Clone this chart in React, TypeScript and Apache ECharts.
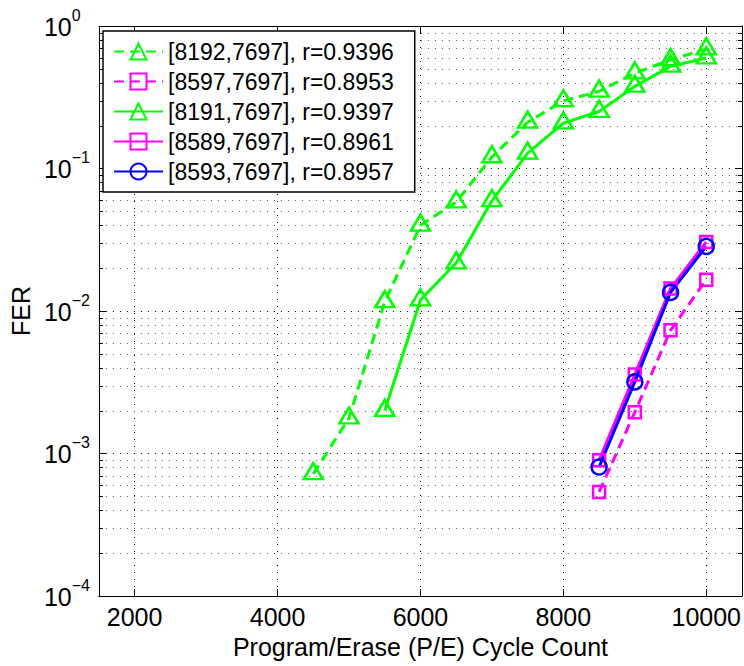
import React, { useEffect, useRef } from 'react';
import * as echarts from 'echarts';

const FONT = '"Liberation Sans", Arial, Helvetica, sans-serif';

// Axis structure
const xMin = 1500;
const xMax = 10500;
const xTicks = [2000, 4000, 6000, 8000, 10000];
const yMin = 1e-4;
const yMax = 1;
const minorDecades = [1e-4, 1e-3, 1e-2, 1e-1];
const minorMultipliers = [2, 3, 4, 5, 6, 7, 8, 9];

// Legend names
const names = [
  '[8192,7697], r=0.9396',
  '[8597,7697], r=0.8953',
  '[8191,7697], r=0.9397',
  '[8589,7697], r=0.8961',
  '[8593,7697], r=0.8957',
];

// Data
const pe8192 = [4500, 5000, 5500, 6000, 6500, 7000, 7500, 8000, 8500, 9000, 9500, 10000];
const fer8192 = [7.2e-4, 1.77e-3, 0.0116, 0.0399, 0.0581, 0.1205, 0.211, 0.298, 0.348, 0.467, 0.579, 0.689];
const pe8191 = [5500, 6000, 6500, 7000, 7500, 8000, 8500, 9000, 9500, 10000];
const fer8191 = [2.0e-3, 0.01195, 0.0217, 0.0593, 0.128, 0.208, 0.251, 0.377, 0.521, 0.596];
const peHigh = [8500, 9000, 9500, 10000];
const fer8597 = [5.37e-4, 1.95e-3, 7.32e-3, 0.0166];
const fer8589 = [8.96e-4, 3.58e-3, 0.0144, 0.0305];
const fer8593 = [8.04e-4, 3.18e-3, 0.0135, 0.0284];

const GREEN = '#00ff00';
const MAGENTA = '#ff00ff';
const BLUE = '#0000ff';

function lineSeries(
  name: string,
  xs: number[],
  ys: number[],
  color: string,
  dashed: boolean,
  symbol: string,
  size: any,
  offset: number[],
) {
  return {
    type: 'line',
    name,
    data: xs.map((x, i) => [x, ys[i]]),
    symbol,
    symbolSize: size,
    symbolOffset: offset,
    showSymbol: true,
    showAllSymbol: true,
    lineStyle: { color, width: 3, type: dashed ? [10, 6] : 'solid' },
    itemStyle: { color: 'rgba(0,0,0,0)', borderColor: color, borderWidth: 2.5 },
    emphasis: { disabled: true },
    z: 3,
  };
}

export default function App() {
  const ref = useRef<HTMLDivElement>(null);
  useEffect(() => {
    if (!ref.current) return;
    const chart = echarts.init(ref.current, undefined, { renderer: 'svg' });
    const minorValues: number[] = [];
    minorDecades.forEach((d) => minorMultipliers.forEach((m) => minorValues.push(m * d)));

    const axisLineStyle = { lineStyle: { color: '#000', width: 1 } };
    const option: any = {
      animation: false,
      backgroundColor: '#fff',
      textStyle: { fontFamily: FONT },
      grid: { left: 97, right: 2, top: 26, bottom: 70 },
      legend: {
        data: names,
        orient: 'vertical',
        left: 103,
        top: 31,
        itemWidth: 49,
        itemHeight: 20,
        itemGap: 7,
        padding: [9, 21, 9, 10],
        backgroundColor: '#fff',
        borderColor: '#000',
        borderWidth: 1.5,
        selectedMode: false,
        z: 10,
        textStyle: { fontSize: 23, lineHeight: 22, color: '#000', fontFamily: FONT },
      },
      xAxis: [
        {
          type: 'value',
          min: xMin,
          max: xMax,
          position: 'bottom',
          axisLine: axisLineStyle,
          axisTick: { inside: true, length: 7, customValues: xTicks, lineStyle: { color: '#000' } },
          axisLabel: {
            customValues: xTicks,
            fontSize: 25,
            margin: 8,
            color: '#000',
            fontFamily: FONT,
            formatter: (v: number) => String(v),
          },
          splitLine: { show: true, lineStyle: { type: [1, 6], color: '#000', width: 1 } },
          name: 'Program/Erase (P/E) Cycle Count',
          nameLocation: 'middle',
          nameGap: 38,
          nameTextStyle: { fontSize: 25, color: '#000', fontFamily: FONT },
        },
        {
          type: 'value',
          min: xMin,
          max: xMax,
          position: 'top',
          axisLine: axisLineStyle,
          axisTick: { inside: true, length: 7, customValues: xTicks, lineStyle: { color: '#000' } },
          axisLabel: { show: false },
          splitLine: { show: false },
        },
      ],
      yAxis: [
        {
          type: 'log',
          logBase: 10,
          min: yMin,
          max: yMax,
          position: 'left',
          axisLine: axisLineStyle,
          axisTick: { inside: true, length: 7, lineStyle: { color: '#000' } },
          axisLabel: {
            margin: 55,
            align: 'left',
            color: '#000',
            formatter: (v: number) => {
              const e = Math.round(Math.log10(v));
              return `{b|10}{s|${e < 0 ? '\u2212' + -e : e}}`;
            },
            rich: {
              b: { fontSize: 25, lineHeight: 26, verticalAlign: 'bottom', fontFamily: FONT, color: '#000' },
              s: { fontSize: 16, lineHeight: 16, padding: [0, 0, 16, 0], verticalAlign: 'bottom', fontFamily: FONT, color: '#000' },
            },
          },
          splitLine: { show: true, lineStyle: { type: [1, 6], color: '#000', width: 1 } },
          name: 'FER',
          nameLocation: 'middle',
          nameGap: 62,
          nameTextStyle: { fontSize: 25, color: '#000', fontFamily: FONT },
        },
        {
          type: 'log',
          logBase: 10,
          min: yMin,
          max: yMax,
          position: 'right',
          axisLine: axisLineStyle,
          axisTick: { inside: true, length: 7, lineStyle: { color: '#000' } },
          axisLabel: { show: false },
          splitLine: { show: false },
        },
      ],
      series: [
        {
          type: 'custom',
          name: 'minorGrid',
          silent: true,
          z: 1,
          xAxisIndex: 0,
          yAxisIndex: 0,
          data: minorValues.map((v) => [xMin, v]),
          encode: { x: 0, y: 1 },
          renderItem: (params: any, api: any) => {
            const cs = params.coordSys;
            const y = Math.round(api.coord([xMin, api.value(1)])[1]) + 0.5;
            return {
              type: 'group',
              children: [
                {
                  type: 'line',
                  shape: { x1: cs.x, y1: y, x2: cs.x + cs.width, y2: y },
                  style: { stroke: '#555', lineWidth: 1, lineDash: [1, 6] },
                },
                {
                  type: 'line',
                  shape: { x1: cs.x, y1: y, x2: cs.x + 4, y2: y },
                  style: { stroke: '#000', lineWidth: 1 },
                },
                {
                  type: 'line',
                  shape: { x1: cs.x + cs.width - 4, y1: y, x2: cs.x + cs.width, y2: y },
                  style: { stroke: '#000', lineWidth: 1 },
                },
              ],
            };
          },
        },
        lineSeries(names[0], pe8192, fer8192, GREEN, true, 'triangle', [19, 16], [0, -2.7]),
        lineSeries(names[1], peHigh, fer8597, MAGENTA, true, 'rect', 12, [0, 0]),
        lineSeries(names[2], pe8191, fer8191, GREEN, false, 'triangle', [19, 16], [0, -2.7]),
        lineSeries(names[3], peHigh, fer8589, MAGENTA, false, 'rect', 12, [0, 0]),
        lineSeries(names[4], peHigh, fer8593, BLUE, false, 'circle', 15, [0, 0]),
      ],
    };
    chart.setOption(option);
    return () => chart.dispose();
  }, []);
  return (
    <div
      ref={ref}
      style={{ position: 'fixed', left: 0, top: 0, width: 744, height: 666, background: '#fff' }}
    />
  );
}
